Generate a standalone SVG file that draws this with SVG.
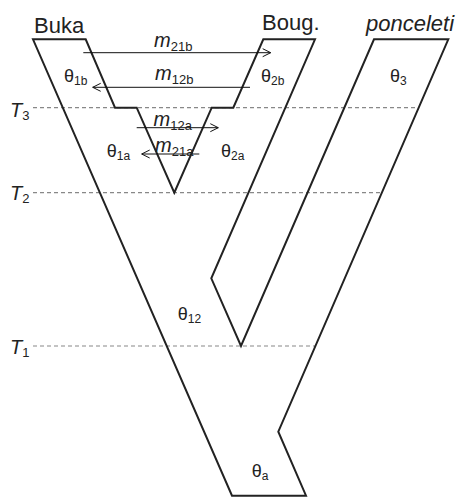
<svg xmlns="http://www.w3.org/2000/svg" width="463" height="497" viewBox="0 0 463 497">
<style>
.outline{fill:none;stroke:#222;stroke-width:2;stroke-linejoin:miter}
.tline{stroke:#888;stroke-width:1.2;stroke-dasharray:4 3;fill:none}
.mig{stroke:#111;stroke-width:1;fill:none}
text{font-family:"Liberation Sans",Arial,sans-serif;fill:#222}
.big{font-size:22px}
.it{font-style:italic}
.th{font-size:18px}
.sub{font-size:12px}
.msub{font-size:13px}
.m{font-size:20px;font-style:italic}
</style>
<defs>
<marker id="arr" viewBox="-9 -5 10 10" markerWidth="10" markerHeight="10" refX="0" refY="0" orient="auto" markerUnits="userSpaceOnUse">
<path d="M-8,-4 L0,0 L-8,4" fill="none" stroke="#111" stroke-width="1"/>
</marker>
</defs>
<g id="time-lines">
<line class="tline" x1="33" y1="107.7" x2="418" y2="107.7"/>
<line class="tline" x1="33" y1="192.7" x2="382" y2="192.7"/>
<line class="tline" x1="33" y1="346" x2="315" y2="346"/>
</g>
<g id="tree">
<path class="outline" d="M33,39.3 L85.7,39.3 L115,107.7 L136.7,107.7 L174.3,192.7 L211.7,107.7 L233.3,107.7 L263.3,39.3 L315,39.3 L211.3,278.3 L241,346 L374,39.3 L448.3,39.3 L278.3,431.7 L306,495.7 L232,495.7 Z"/>
</g>
<g id="connectors">
<line class="mig" x1="83.3" y1="52.7" x2="270.7" y2="52.7" marker-end="url(#arr)"/>
<line class="mig" x1="250" y1="87.3" x2="92.7" y2="87.3" marker-end="url(#arr)"/>
<line class="mig" x1="136.7" y1="127.7" x2="218.3" y2="127.7" marker-end="url(#arr)"/>
<line class="mig" x1="199.3" y1="154" x2="141.7" y2="154" marker-end="url(#arr)"/>
</g>
<g id="node-buka"><text class="big" x="34" y="33">Buka</text></g>
<g id="node-boug"><text class="big" x="262" y="30">Boug.</text></g>
<g id="node-ponceleti"><text class="big it" x="366" y="31">ponceleti</text></g>
<g id="migration-labels">
<text x="154" y="47"><tspan class="m">m</tspan><tspan class="msub" dy="4">21b</tspan></text>
<text x="155" y="80"><tspan class="m">m</tspan><tspan class="msub" dy="4">12b</tspan></text>
<text x="153.5" y="126"><tspan class="m">m</tspan><tspan class="msub" dy="4">12a</tspan></text>
<text x="155" y="151.5"><tspan class="m">m</tspan><tspan class="msub" dy="4">21a</tspan></text>
</g>
<g id="theta-labels">
<text x="64" y="81.7"><tspan class="th">θ</tspan><tspan class="sub" dy="3">1b</tspan></text>
<text x="261" y="81.7"><tspan class="th">θ</tspan><tspan class="sub" dy="3">2b</tspan></text>
<text x="390" y="81.7"><tspan class="th">θ</tspan><tspan class="sub" dy="3">3</tspan></text>
<text x="106.7" y="156.7"><tspan class="th">θ</tspan><tspan class="sub" dy="3">1a</tspan></text>
<text x="221" y="156.7"><tspan class="th">θ</tspan><tspan class="sub" dy="3">2a</tspan></text>
<text x="177.7" y="320"><tspan class="th">θ</tspan><tspan class="sub" dy="3">12</tspan></text>
<text x="251.7" y="476.7"><tspan class="th">θ</tspan><tspan class="sub" dy="3">a</tspan></text>
</g>
<g id="time-labels">
<text x="10" y="116.7"><tspan class="m">T</tspan><tspan class="msub" dy="3">3</tspan></text>
<text x="10" y="200"><tspan class="m">T</tspan><tspan class="msub" dy="3">2</tspan></text>
<text x="10" y="354"><tspan class="m">T</tspan><tspan class="msub" dy="3">1</tspan></text>
</g>
</svg>
